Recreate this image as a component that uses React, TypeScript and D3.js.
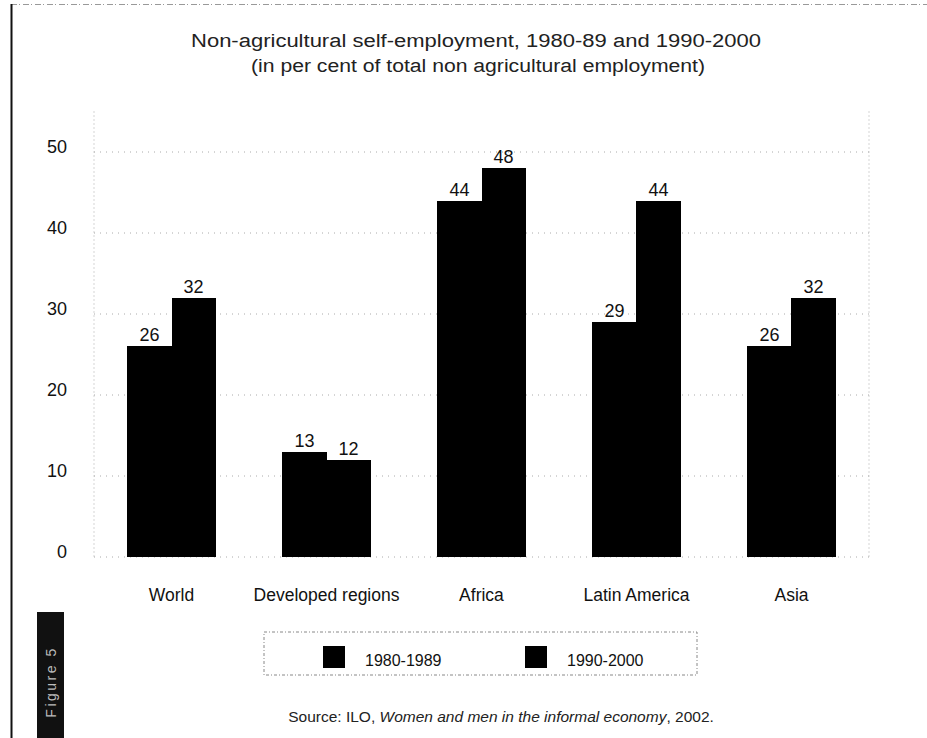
import * as d3 from 'd3';

const W = 927;
const H = 738;

const regions = ['World', 'Developed regions', 'Africa', 'Latin America', 'Asia'];
const periods = ['1980-1989', '1990-2000'];
const values1980 = [26, 13, 44, 29, 26];
const values1990 = [32, 12, 48, 44, 32];
const yTicks = [0, 10, 20, 30, 40, 50];

const FONT = '"Liberation Sans", Arial, Helvetica, sans-serif';

const App = () => {
  const x = d3.scaleBand<string>()
    .domain(regions)
    .range([94, 869])
    .paddingInner(0.432)
    .paddingOuter(0.216);

  const xSub = d3.scaleBand<string>()
    .domain(periods)
    .range([0, x.bandwidth()]);

  const y = d3.scaleLinear().domain([0, 55]).range([557, 111.5]);

  const rows = regions.map((r, i) => ({
    region: r,
    vals: [
      { key: periods[0], v: values1980[i] },
      { key: periods[1], v: values1990[i] },
    ],
  }));

  const [x0, x1] = x.range();

  return (
    <svg width={W} height={H} style={{ position: 'fixed', left: 0, top: 0, background: '#fff' }} fontFamily={FONT}>
      {/* page edges */}
      <line x1={11} x2={W} y1={4.5} y2={4.5} stroke="#999" strokeWidth={1} strokeDasharray="6,2,1,3" />
      <line x1={11.5} x2={11.5} y1={4} y2={H} stroke="#111" strokeWidth={2} />

      {/* title */}
      <text x={476} y={47} textAnchor="middle" fontSize={18} fill="#222" textLength={570} lengthAdjust="spacingAndGlyphs">
        Non-agricultural self-employment, 1980-89 and 1990-2000
      </text>
      <text x={478} y={72} textAnchor="middle" fontSize={18} fill="#222" textLength={454} lengthAdjust="spacingAndGlyphs">
        (in per cent of total non agricultural employment)
      </text>

      {/* frame + grid */}
      <line x1={x0} x2={x0} y1={y.range()[1]} y2={y(0)} stroke="#aaa" strokeDasharray="1,3" />
      <line x1={x1} x2={x1} y1={y.range()[1]} y2={y(0)} stroke="#aaa" strokeDasharray="1,3" />
      {yTicks.map(t => (
        <g key={t}>
          <line x1={x0} x2={x1} y1={y(t)} y2={y(t)} stroke="#aaa" strokeDasharray="1,5" />
          <text x={67} y={y(t) + 0.5} textAnchor="end" fontSize={18} fill="#111">{t}</text>
        </g>
      ))}

      {/* bars */}
      {rows.map(row => (
        <g key={row.region} transform={`translate(${x(row.region)},0)`}>
          {row.vals.map(d => (
            <g key={d.key}>
              <rect x={xSub(d.key)} y={y(d.v)} width={xSub.bandwidth() + 0.5} height={y(0) - y(d.v)} fill="#000" shapeRendering="crispEdges" />
              <text x={(xSub(d.key) ?? 0) + xSub.bandwidth() / 2} y={y(d.v) - 5} textAnchor="middle" fontSize={18} fill="#111">
                {d.v}
              </text>
            </g>
          ))}
          <text x={x.bandwidth() / 2} y={601} textAnchor="middle" fontSize={17.5} fill="#111">{row.region}</text>
        </g>
      ))}

      {/* legend */}
      <rect x={264} y={632} width={433} height={43} fill="none" stroke="#888" strokeDasharray="3,2,1,2" />
      {periods.map((p, i) => (
        <g key={p} transform={`translate(${323 + i * 202},0)`}>
          <rect x={0} y={646} width={22} height={22} fill="#000" />
          <text x={42} y={666} fontSize={16} fill="#111">{p}</text>
        </g>
      ))}

      {/* source */}
      <text x={501} y={722} textAnchor="middle" fontSize={15.5} fill="#222">
        Source: ILO, <tspan fontStyle="italic">Women and men in the informal economy</tspan>, 2002.
      </text>

      {/* figure tab */}
      <rect x={37} y={612} width={27} height={H - 612} fill="#111" />
      <text transform="translate(55.5,682) rotate(-90)" textAnchor="middle" fontSize={14} fill="#bbb" letterSpacing={2.5}>
        Figure 5
      </text>
    </svg>
  );
};

export default App;
